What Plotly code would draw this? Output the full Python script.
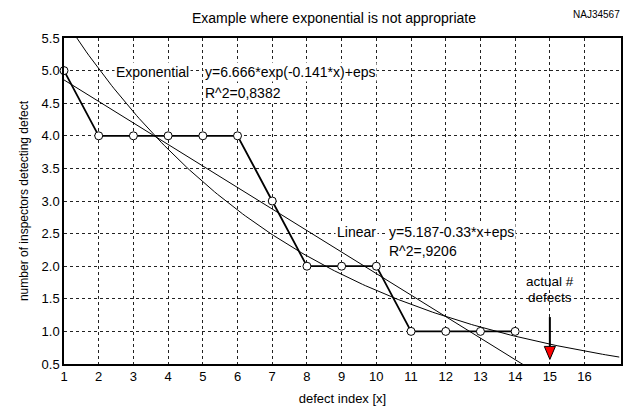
import numpy as np
import plotly.graph_objects as go

# observed data
defect_index = [1, 2, 3, 4, 5, 6, 7, 8, 9, 10, 11, 12, 13, 14]
inspectors = [5, 4, 4, 4, 4, 4, 3, 2, 2, 2, 1, 1, 1, 1]

# fitted models (coefficients as printed on the chart)
exp_a, exp_b = 6.666, -0.141
lin_a, lin_b = 5.187, -0.33
fit_x_start, fit_x_end = 1.0, 17.0

# actual number of defects
actual_defects = 15
arrow_top, arrow_tip = 1.22, 0.57

x_ticks = list(range(1, 17))
y_ticks = [0.5, 1.0, 1.5, 2.0, 2.5, 3.0, 3.5, 4.0, 4.5, 5.0, 5.5]

xt = np.linspace(fit_x_start, fit_x_end, 200)
exp_y = exp_a * np.exp(exp_b * xt)
lin_y = lin_a + lin_b * xt

FONT = "Liberation Sans, Arial, sans-serif"

fig = go.Figure()
fig.add_trace(go.Scatter(x=xt, y=exp_y, mode="lines",
                         line=dict(color="black", width=1), showlegend=False))
fig.add_trace(go.Scatter(x=xt, y=lin_y, mode="lines",
                         line=dict(color="black", width=1), showlegend=False))
fig.add_trace(go.Scatter(x=defect_index, y=inspectors, mode="lines+markers",
                         line=dict(color="black", width=1.8),
                         marker=dict(symbol="circle", size=8, color="white",
                                     line=dict(color="black", width=1)),
                         showlegend=False, cliponaxis=False))

# arrow: black shaft + red head
head_h = 0.2
head_w = 0.16
fig.add_shape(type="line", x0=actual_defects, x1=actual_defects,
              y0=arrow_top, y1=arrow_tip + head_h, xref="x", yref="y",
              line=dict(color="black", width=2))
fig.add_shape(type="path", xref="x", yref="y",
              path=f"M {actual_defects - head_w} {arrow_tip + head_h} "
                   f"L {actual_defects + head_w} {arrow_tip + head_h} "
                   f"L {actual_defects} {arrow_tip} Z",
              fillcolor="red", line=dict(color="black", width=1))

def txt(x, y, s, xanchor="left", bg="white", size=14):
    fig.add_annotation(x=x, y=y, xref="x", yref="y", text=s, showarrow=False,
                       xanchor=xanchor, yanchor="middle",
                       font=dict(family=FONT, size=size, color="black"),
                       bgcolor=bg, borderpad=1 if bg else 0)

txt(4.66, 4.98, "Exponential", xanchor="right")
txt(5.0, 4.98, "y=6.666*exp(-0.141*x)+eps")
txt(5.0, 4.66, "R^2=0,8382")
txt(10.05, 2.53, "Linear", xanchor="right")
txt(10.32, 2.53, "y=5.187-0.33*x+eps")
txt(10.32, 2.23, "R^2=,9206")
txt(actual_defects, 1.77, "actual #", xanchor="center", bg=None, size=13.5)
txt(actual_defects, 1.52, "defects", xanchor="center", bg=None, size=13.5)

# id at top right (paper coords extend above plot area)
fig.add_annotation(x=1.002, y=1 + (38 - 15) / 326, xref="paper", yref="paper",
                   text="NAJ34567", showarrow=False, xanchor="right",
                   yanchor="middle", font=dict(family=FONT, size=10, color="black"))

fig.update_layout(
    width=637, height=406,
    margin=dict(l=64, r=16, t=38, b=42),
    paper_bgcolor="white", plot_bgcolor="white",
    font=dict(family=FONT, size=13, color="black"),
    title=dict(text="Example where exponential is not appropriate",
               x=334 / 637, xanchor="center", y=1 - 18 / 406, yanchor="middle",
               font=dict(family=FONT, size=14, color="black")),
    xaxis=dict(range=[1, 17.05], tickmode="array",
               tickvals=x_ticks, ticktext=[str(i) for i in x_ticks],
               showgrid=True, gridcolor="#222", griddash="dot", gridwidth=1,
               showline=True, linecolor="black", linewidth=1.5, mirror=True,
               zeroline=False, ticks="", tickfont=dict(size=13), automargin=False,
               title=dict(text="defect index [x]", font=dict(size=13), standoff=14)),
    yaxis=dict(range=[0.5, 5.5], tickmode="array",
               tickvals=y_ticks, ticktext=[f"{v:.1f}" for v in y_ticks],
               showgrid=True, gridcolor="#222", griddash="dot", gridwidth=1,
               showline=True, linecolor="black", linewidth=1.5, mirror=True,
               zeroline=False, ticks="", tickfont=dict(size=13), automargin=False,
               title=dict(text="number of inspectors detecting defect",
                          font=dict(size=12), standoff=10)),
)

fig.write_html("out.html")
